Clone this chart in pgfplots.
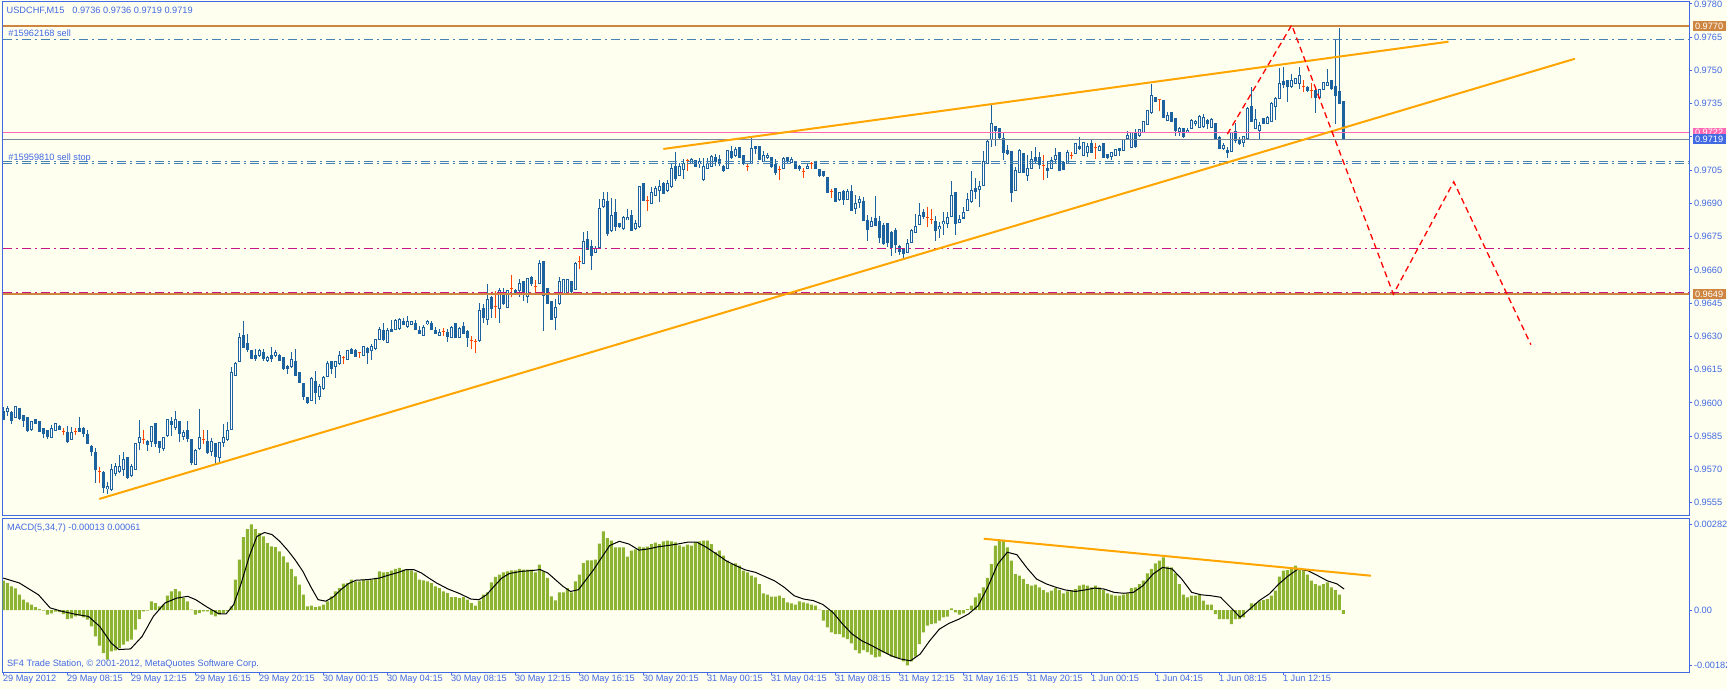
\documentclass[border=0pt]{standalone}
\usepackage{pgfplots}
\pgfplotsset{compat=1.18}
\usepackage{pgfplotstable}
\usepackage{fontspec}
\setmainfont{Liberation Sans}
\definecolor{ivory}{RGB}{255,255,240}
\definecolor{mtblue}{RGB}{65,105,225}
\definecolor{candle}{RGB}{28,98,158}
\definecolor{doji}{RGB}{255,69,0}
\definecolor{peru}{RGB}{205,133,63}
\definecolor{steel}{RGB}{70,130,180}
\definecolor{mvred}{RGB}{199,21,133}
\definecolor{hotpink}{RGB}{255,105,180}
\definecolor{slate}{RGB}{119,136,153}
\definecolor{orangeline}{RGB}{255,165,0}
\definecolor{macdgreen}{RGB}{140,180,50}
\newcommand{\mtfont}{\fontsize{9.2pt}{11pt}\selectfont}

\pgfplotstableread{
i t o h l c
0 -1 0.95964 0.95982 0.95922 0.95925
1 1 0.95964 0.95985 0.95940 0.95976
2 -1 0.95958 0.95964 0.95907 0.95922
3 1 0.95934 0.95988 0.95931 0.95985
4 -1 0.95976 0.95979 0.95925 0.95931
5 -1 0.95943 0.95946 0.95892 0.95922
6 -1 0.95934 0.95937 0.95871 0.95877
7 1 0.95883 0.95922 0.95877 0.95916
8 -1 0.95925 0.95925 0.95904 0.95907
9 -1 0.95916 0.95919 0.95871 0.95874
10 -1 0.95886 0.95889 0.95844 0.95865
11 -1 0.95877 0.95880 0.95838 0.95850
12 1 0.95844 0.95898 0.95841 0.95886
13 1 0.95877 0.95910 0.95874 0.95907
14 -1 0.95895 0.95901 0.95877 0.95883
15 0 0.95871 0.95886 0.95853 0.95871
16 -1 0.95868 0.95895 0.95820 0.95826
17 1 0.95835 0.95892 0.95832 0.95868
18 0 0.95871 0.95886 0.95853 0.95871
19 -1 0.95886 0.95937 0.95871 0.95874
20 -1 0.95886 0.95892 0.95847 0.95865
21 -1 0.95856 0.95877 0.95814 0.95817
22 -1 0.95805 0.95814 0.95763 0.95784
23 -1 0.95778 0.95796 0.95642 0.95702
24 0 0.95693 0.95714 0.95642 0.95693
25 -1 0.95687 0.95696 0.95597 0.95621
26 1 0.95612 0.95645 0.95588 0.95624
27 1 0.95612 0.95726 0.95606 0.95702
28 1 0.95684 0.95729 0.95669 0.95714
29 1 0.95693 0.95766 0.95684 0.95714
30 1 0.95702 0.95778 0.95672 0.95744
31 -1 0.95753 0.95756 0.95657 0.95663
32 1 0.95672 0.95726 0.95666 0.95714
33 1 0.95702 0.95820 0.95699 0.95817
34 1 0.95823 0.95925 0.95787 0.95844
35 0 0.95835 0.95877 0.95814 0.95835
36 -1 0.95829 0.95835 0.95784 0.95814
37 1 0.95826 0.95898 0.95802 0.95895
38 -1 0.95907 0.95910 0.95802 0.95817
39 -1 0.95826 0.95832 0.95775 0.95802
40 1 0.95793 0.95847 0.95784 0.95844
41 1 0.95853 0.95928 0.95847 0.95925
42 -1 0.95919 0.95937 0.95853 0.95904
43 1 0.95892 0.95967 0.95877 0.95925
44 -1 0.95916 0.95919 0.95823 0.95865
45 1 0.95850 0.95880 0.95832 0.95868
46 -1 0.95877 0.95919 0.95826 0.95841
47 -1 0.95835 0.95838 0.95720 0.95732
48 1 0.95723 0.95793 0.95720 0.95787
49 1 0.95793 0.95976 0.95790 0.95844
50 0 0.95835 0.95877 0.95814 0.95835
51 -1 0.95826 0.95877 0.95772 0.95775
52 1 0.95784 0.95841 0.95760 0.95826
53 -1 0.95817 0.95823 0.95720 0.95760
54 1 0.95753 0.95826 0.95729 0.95820
55 1 0.95823 0.95907 0.95802 0.95844
56 1 0.95835 0.95913 0.95829 0.95877
57 1 0.95883 0.96163 0.95877 0.96139
58 1 0.96124 0.96187 0.96121 0.96178
59 1 0.96187 0.96316 0.96184 0.96295
60 -1 0.96304 0.96368 0.96250 0.96253
61 -1 0.96268 0.96310 0.96232 0.96244
62 -1 0.96238 0.96241 0.96199 0.96202
63 -1 0.96214 0.96247 0.96190 0.96202
64 1 0.96214 0.96244 0.96208 0.96238
65 -1 0.96229 0.96244 0.96193 0.96202
66 1 0.96193 0.96211 0.96184 0.96205
67 -1 0.96214 0.96253 0.96187 0.96202
68 1 0.96214 0.96241 0.96208 0.96229
69 -1 0.96214 0.96223 0.96190 0.96193
70 -1 0.96205 0.96208 0.96151 0.96154
71 -1 0.96166 0.96172 0.96133 0.96154
72 1 0.96166 0.96229 0.96160 0.96196
73 -1 0.96187 0.96244 0.96121 0.96124
74 -1 0.96139 0.96142 0.96091 0.96094
75 -1 0.96088 0.96091 0.96012 0.96030
76 -1 0.96024 0.96027 0.95994 0.96003
77 1 0.96012 0.96115 0.96009 0.96109
78 -1 0.96097 0.96142 0.95997 0.96045
79 1 0.96030 0.96085 0.96012 0.96076
80 1 0.96064 0.96124 0.96061 0.96115
81 1 0.96121 0.96190 0.96118 0.96178
82 -1 0.96187 0.96190 0.96133 0.96154
83 1 0.96163 0.96190 0.96112 0.96187
84 1 0.96178 0.96238 0.96175 0.96214
85 0 0.96205 0.96214 0.96175 0.96205
86 1 0.96196 0.96241 0.96193 0.96238
87 -1 0.96244 0.96250 0.96223 0.96226
88 -1 0.96238 0.96244 0.96208 0.96211
89 0 0.96226 0.96232 0.96202 0.96226
90 1 0.96214 0.96259 0.96211 0.96256
91 -1 0.96247 0.96253 0.96177 0.96226
92 1 0.96238 0.96268 0.96193 0.96256
93 1 0.96244 0.96289 0.96241 0.96286
94 1 0.96289 0.96343 0.96283 0.96334
95 -1 0.96328 0.96361 0.96280 0.96286
96 1 0.96274 0.96337 0.96271 0.96328
97 -1 0.96334 0.96376 0.96319 0.96322
98 1 0.96334 0.96379 0.96331 0.96373
99 1 0.96334 0.96385 0.96331 0.96376
100 -1 0.96370 0.96382 0.96352 0.96355
101 1 0.96343 0.96394 0.96340 0.96367
102 1 0.96355 0.96370 0.96352 0.96367
103 -1 0.96361 0.96373 0.96331 0.96334
104 -1 0.96328 0.96346 0.96313 0.96316
105 1 0.96304 0.96352 0.96301 0.96343
106 1 0.96358 0.96373 0.96352 0.96367
107 -1 0.96361 0.96370 0.96328 0.96334
108 -1 0.96328 0.96343 0.96310 0.96316
109 1 0.96304 0.96334 0.96301 0.96319
110 0 0.96322 0.96337 0.96301 0.96322
111 -1 0.96319 0.96334 0.96274 0.96301
112 1 0.96295 0.96346 0.96292 0.96343
113 -1 0.96358 0.96361 0.96292 0.96295
114 1 0.96295 0.96343 0.96292 0.96337
115 -1 0.96346 0.96367 0.96313 0.96316
116 -1 0.96325 0.96331 0.96253 0.96295
117 0 0.96280 0.96304 0.96244 0.96280
118 0 0.96277 0.96289 0.96226 0.96277
119 1 0.96283 0.96451 0.96277 0.96415
120 -1 0.96427 0.96448 0.96364 0.96385
121 1 0.96376 0.96539 0.96352 0.96466
122 -1 0.96475 0.96482 0.96385 0.96427
123 0 0.96433 0.96506 0.96385 0.96433
124 1 0.96424 0.96518 0.96364 0.96506
125 -1 0.96497 0.96518 0.96442 0.96448
126 1 0.96433 0.96512 0.96430 0.96506
127 0 0.96515 0.96578 0.96478 0.96515
128 -1 0.96509 0.96515 0.96494 0.96497
129 1 0.96506 0.96560 0.96478 0.96539
130 -1 0.96548 0.96554 0.96463 0.96491
131 1 0.96482 0.96563 0.96451 0.96560
132 -1 0.96566 0.96575 0.96527 0.96539
133 0 0.96527 0.96557 0.96494 0.96527
134 1 0.96539 0.96644 0.96536 0.96629
135 -1 0.96638 0.96641 0.96325 0.96485
136 -1 0.96515 0.96518 0.96445 0.96448
137 -1 0.96457 0.96460 0.96373 0.96376
138 1 0.96385 0.96472 0.96328 0.96433
139 1 0.96448 0.96569 0.96445 0.96548
140 1 0.96491 0.96563 0.96488 0.96557
141 1 0.96491 0.96560 0.96488 0.96557
142 -1 0.96548 0.96551 0.96494 0.96506
143 1 0.96515 0.96638 0.96512 0.96629
144 0 0.96638 0.96665 0.96605 0.96638
145 1 0.96629 0.96773 0.96626 0.96728
146 -1 0.96737 0.96776 0.96692 0.96695
147 -1 0.96707 0.96734 0.96599 0.96665
148 1 0.96680 0.96710 0.96677 0.96698
149 1 0.96704 0.96921 0.96701 0.96879
150 1 0.96885 0.96951 0.96882 0.96918
151 -1 0.96909 0.96951 0.96755 0.96767
152 1 0.96776 0.96924 0.96773 0.96846
153 -1 0.96861 0.96921 0.96779 0.96795
154 -1 0.96810 0.96813 0.96792 0.96795
155 1 0.96786 0.96843 0.96783 0.96837
156 1 0.96828 0.96876 0.96825 0.96837
157 -1 0.96846 0.96870 0.96776 0.96779
158 1 0.96786 0.96825 0.96783 0.96810
159 1 0.96795 0.96981 0.96792 0.96978
160 -1 0.96990 0.96993 0.96912 0.96915
161 0 0.96915 0.96936 0.96867 0.96915
162 1 0.96900 0.96975 0.96897 0.96951
163 1 0.96936 0.96981 0.96933 0.96969
164 1 0.96957 0.97008 0.96906 0.96978
165 -1 0.96990 0.96999 0.96945 0.96948
166 1 0.96957 0.97005 0.96954 0.96990
167 1 0.96975 0.97080 0.96972 0.97059
168 -1 0.97068 0.97132 0.97005 0.97014
169 1 0.97026 0.97084 0.97023 0.97068
170 1 0.97056 0.97102 0.97011 0.97080
171 0 0.97093 0.97102 0.97047 0.97093
172 1 0.97080 0.97105 0.97077 0.97099
173 -1 0.97093 0.97096 0.97065 0.97068
174 1 0.97080 0.97108 0.97062 0.97090
175 1 0.97008 0.97108 0.97005 0.97068
176 1 0.97061 0.97106 0.97058 0.97082
177 1 0.97067 0.97118 0.97064 0.97115
178 -1 0.97109 0.97124 0.97070 0.97091
179 -1 0.97100 0.97118 0.97070 0.97079
180 -1 0.97070 0.97076 0.97043 0.97049
181 1 0.97058 0.97142 0.97055 0.97139
182 -1 0.97133 0.97160 0.97103 0.97106
183 1 0.97115 0.97154 0.97109 0.97142
184 -1 0.97151 0.97154 0.97106 0.97109
185 -1 0.97118 0.97121 0.97073 0.97079
186 0 0.97067 0.97082 0.97046 0.97067
187 1 0.97079 0.97196 0.97076 0.97148
188 -1 0.97160 0.97163 0.97124 0.97148
189 -1 0.97157 0.97160 0.97094 0.97097
190 1 0.97091 0.97136 0.97088 0.97118
191 1 0.97106 0.97127 0.97100 0.97118
192 -1 0.97109 0.97112 0.97061 0.97067
193 -1 0.97079 0.97103 0.97028 0.97040
194 0 0.97052 0.97067 0.97007 0.97052
195 1 0.97058 0.97109 0.97055 0.97106
196 -1 0.97109 0.97112 0.97079 0.97097
197 1 0.97088 0.97109 0.97082 0.97100
198 -1 0.97091 0.97094 0.97055 0.97058
199 -1 0.97070 0.97073 0.97049 0.97058
200 0 0.97046 0.97061 0.97016 0.97046
201 1 0.97058 0.97079 0.97055 0.97070
202 0 0.97082 0.97088 0.97058 0.97082
203 -1 0.97091 0.97094 0.97055 0.97058
204 -1 0.97052 0.97055 0.97022 0.97025
205 -1 0.97043 0.97049 0.97022 0.97025
206 -1 0.97019 0.97022 0.96947 0.96950
207 0 0.96953 0.96968 0.96925 0.96953
208 -1 0.96968 0.96971 0.96907 0.96910
209 1 0.96919 0.96953 0.96910 0.96950
210 -1 0.96953 0.96962 0.96892 0.96916
211 1 0.96919 0.96965 0.96916 0.96956
212 -1 0.96953 0.96983 0.96865 0.96868
213 1 0.96877 0.96937 0.96853 0.96901
214 1 0.96907 0.96934 0.96877 0.96919
215 -1 0.96910 0.96931 0.96823 0.96826
216 -1 0.96823 0.96847 0.96730 0.96784
217 1 0.96796 0.96838 0.96793 0.96820
218 -1 0.96832 0.96937 0.96799 0.96802
219 -1 0.96820 0.96844 0.96724 0.96745
220 -1 0.96799 0.96811 0.96715 0.96718
221 -1 0.96811 0.96814 0.96703 0.96724
222 -1 0.96772 0.96775 0.96664 0.96703
223 -1 0.96781 0.96790 0.96676 0.96718
224 -1 0.96709 0.96712 0.96667 0.96685
225 -1 0.96691 0.96697 0.96655 0.96676
226 1 0.96679 0.96742 0.96676 0.96721
227 1 0.96727 0.96787 0.96724 0.96778
228 1 0.96769 0.96853 0.96766 0.96796
229 1 0.96808 0.96901 0.96805 0.96847
230 -1 0.96862 0.96877 0.96832 0.96844
231 0 0.96838 0.96886 0.96796 0.96838
232 0 0.96829 0.96877 0.96808 0.96829
233 -1 0.96820 0.96844 0.96730 0.96778
234 1 0.96787 0.96817 0.96745 0.96796
235 1 0.96808 0.96862 0.96757 0.96820
236 1 0.96811 0.96865 0.96790 0.96838
237 1 0.96844 0.97001 0.96841 0.96937
238 -1 0.96950 0.96953 0.96757 0.96811
239 1 0.96814 0.96847 0.96811 0.96829
240 1 0.96835 0.96886 0.96832 0.96862
241 1 0.96868 0.96950 0.96865 0.96916
242 1 0.96907 0.97049 0.96904 0.96959
243 -1 0.96968 0.97016 0.96919 0.96956
244 1 0.96965 0.97004 0.96886 0.96980
245 1 0.96983 0.97139 0.96980 0.97088
246 1 0.97082 0.97190 0.97079 0.97178
247 1 0.97190 0.97353 0.97154 0.97260
248 -1 0.97248 0.97251 0.97160 0.97229
249 -1 0.97238 0.97242 0.97193 0.97196
250 -1 0.97196 0.97217 0.97097 0.97130
251 -1 0.97139 0.97166 0.97118 0.97127
252 -1 0.97136 0.97139 0.96907 0.96950
253 1 0.96959 0.97064 0.96956 0.97049
254 1 0.97040 0.97148 0.97037 0.97139
255 -1 0.97127 0.97130 0.97037 0.97040
256 1 0.97025 0.97121 0.97001 0.97058
257 1 0.97058 0.97136 0.97055 0.97100
258 -1 0.97109 0.97157 0.97082 0.97097
259 -1 0.97109 0.97133 0.97055 0.97079
260 0 0.97070 0.97118 0.97007 0.97070
261 -1 0.97058 0.97094 0.97016 0.97049
262 1 0.97058 0.97109 0.97055 0.97097
263 1 0.97102 0.97150 0.97081 0.97117
264 -1 0.97132 0.97135 0.97048 0.97051
265 -1 0.97088 0.97093 0.97051 0.97054
266 1 0.97081 0.97141 0.97078 0.97132
267 0 0.97117 0.97132 0.97102 0.97117
268 1 0.97126 0.97174 0.97123 0.97171
269 -1 0.97159 0.97201 0.97141 0.97147
270 1 0.97117 0.97177 0.97114 0.97174
271 1 0.97132 0.97174 0.97111 0.97159
272 -1 0.97171 0.97189 0.97129 0.97132
273 0 0.97153 0.97174 0.97099 0.97153
274 1 0.97138 0.97165 0.97135 0.97159
275 -1 0.97171 0.97174 0.97105 0.97108
276 -1 0.97120 0.97123 0.97102 0.97108
277 1 0.97114 0.97135 0.97096 0.97132
278 1 0.97117 0.97147 0.97114 0.97144
279 -1 0.97147 0.97153 0.97117 0.97141
280 1 0.97141 0.97192 0.97138 0.97189
281 1 0.97195 0.97228 0.97192 0.97207
282 1 0.97153 0.97222 0.97150 0.97219
283 -1 0.97222 0.97237 0.97153 0.97156
284 1 0.97207 0.97237 0.97201 0.97234
285 1 0.97222 0.97273 0.97219 0.97270
286 1 0.97258 0.97325 0.97255 0.97321
287 1 0.97309 0.97439 0.97306 0.97388
288 -1 0.97379 0.97382 0.97358 0.97361
289 0 0.97370 0.97373 0.97318 0.97370
290 -1 0.97364 0.97367 0.97285 0.97288
291 1 0.97276 0.97312 0.97273 0.97297
292 -1 0.97312 0.97315 0.97267 0.97270
293 -1 0.97282 0.97285 0.97204 0.97228
294 1 0.97225 0.97246 0.97204 0.97240
295 -1 0.97240 0.97243 0.97198 0.97204
296 1 0.97222 0.97240 0.97219 0.97231
297 1 0.97240 0.97282 0.97237 0.97276
298 1 0.97261 0.97279 0.97252 0.97273
299 1 0.97246 0.97300 0.97243 0.97294
300 1 0.97249 0.97306 0.97240 0.97291
301 -1 0.97276 0.97282 0.97237 0.97261
302 1 0.97246 0.97288 0.97243 0.97279
303 -1 0.97261 0.97264 0.97186 0.97189
304 -1 0.97201 0.97204 0.97147 0.97150
305 1 0.97150 0.97174 0.97141 0.97162
306 -1 0.97141 0.97156 0.97105 0.97129
307 1 0.97135 0.97225 0.97132 0.97222
308 -1 0.97228 0.97264 0.97174 0.97186
309 -1 0.97192 0.97201 0.97165 0.97171
310 1 0.97177 0.97207 0.97156 0.97201
311 1 0.97192 0.97334 0.97189 0.97331
312 -1 0.97337 0.97424 0.97267 0.97270
313 1 0.97237 0.97325 0.97234 0.97279
314 1 0.97231 0.97267 0.97189 0.97252
315 -1 0.97285 0.97288 0.97258 0.97264
316 1 0.97264 0.97294 0.97258 0.97288
317 1 0.97270 0.97361 0.97267 0.97352
318 1 0.97337 0.97379 0.97276 0.97373
319 1 0.97376 0.97514 0.97373 0.97445
320 -1 0.97451 0.97517 0.97421 0.97439
321 -1 0.97454 0.97457 0.97358 0.97430
322 1 0.97427 0.97484 0.97424 0.97457
323 1 0.97442 0.97469 0.97439 0.97463
324 1 0.97442 0.97517 0.97418 0.97478
325 0 0.97427 0.97460 0.97406 0.97427
326 -1 0.97424 0.97433 0.97403 0.97412
327 0 0.97409 0.97445 0.97379 0.97409
328 -1 0.97412 0.97418 0.97309 0.97379
329 1 0.97379 0.97418 0.97376 0.97415
330 1 0.97415 0.97451 0.97412 0.97445
331 1 0.97433 0.97508 0.97430 0.97445
332 -1 0.97454 0.97457 0.97415 0.97418
333 -1 0.97430 0.97644 0.97261 0.97388
334 -1 0.97406 0.97692 0.97349 0.97352
335 -1 0.97360 0.97360 0.97190 0.97190
}\candles

\pgfplotstableread{
i m
0 0.965e-3
1 0.888e-3
2 0.779e-3
3 0.713e-3
4 0.504e-3
5 0.340e-3
6 0.252e-3
7 0.175e-3
8 0.099e-3
9 0.033e-3
10 -0.022e-3
11 -0.154e-3
12 -0.110e-3
13 -0.055e-3
14 -0.066e-3
15 -0.132e-3
16 -0.296e-3
17 -0.274e-3
18 -0.208e-3
19 -0.186e-3
20 -0.241e-3
21 -0.318e-3
22 -0.537e-3
23 -0.866e-3
24 -1.173e-3
25 -1.414e-3
26 -1.634e-3
27 -1.360e-3
28 -1.327e-3
29 -1.250e-3
30 -1.140e-3
31 -1.031e-3
32 -0.976e-3
33 -0.647e-3
34 -0.296e-3
35 -0.044e-3
36 -0.022e-3
37 0.285e-3
38 0.230e-3
39 0.121e-3
40 0.175e-3
41 0.471e-3
42 0.614e-3
43 0.691e-3
44 0.614e-3
45 0.395e-3
46 0.285e-3
47 0.011e-3
48 -0.154e-3
49 -0.099e-3
50 -0.044e-3
51 -0.044e-3
52 -0.154e-3
53 -0.208e-3
54 -0.154e-3
55 -0.099e-3
56 -0.044e-3
57 0.121e-3
58 0.998e-3
59 1.656e-3
60 2.401e-3
61 2.664e-3
62 2.820e-3
63 2.664e-3
64 2.533e-3
65 2.423e-3
66 2.204e-3
67 2.094e-3
68 2.072e-3
69 1.930e-3
70 1.765e-3
71 1.568e-3
72 1.349e-3
73 1.107e-3
74 0.833e-3
75 0.504e-3
76 0.121e-3
77 0.143e-3
78 0.099e-3
79 0.121e-3
80 0.175e-3
81 0.285e-3
82 0.450e-3
83 0.614e-3
84 0.724e-3
85 0.866e-3
86 0.888e-3
87 0.998e-3
88 0.943e-3
89 0.943e-3
90 0.998e-3
91 0.976e-3
92 0.998e-3
93 1.053e-3
94 1.272e-3
95 1.239e-3
96 1.250e-3
97 1.294e-3
98 1.349e-3
99 1.382e-3
100 1.327e-3
101 1.327e-3
102 1.305e-3
103 1.239e-3
104 0.998e-3
105 0.976e-3
106 0.943e-3
107 0.888e-3
108 0.779e-3
109 0.724e-3
110 0.614e-3
111 0.559e-3
112 0.428e-3
113 0.428e-3
114 0.395e-3
115 0.428e-3
116 0.340e-3
117 0.230e-3
118 0.143e-3
119 0.307e-3
120 0.504e-3
121 0.581e-3
122 0.910e-3
123 1.086e-3
124 1.162e-3
125 1.239e-3
126 1.272e-3
127 1.305e-3
128 1.305e-3
129 1.349e-3
130 1.327e-3
131 1.327e-3
132 1.327e-3
133 1.239e-3
134 1.491e-3
135 1.272e-3
136 1.053e-3
137 0.450e-3
138 0.318e-3
139 0.581e-3
140 0.581e-3
141 0.724e-3
142 0.581e-3
143 0.943e-3
144 1.162e-3
145 1.546e-3
146 1.634e-3
147 1.634e-3
148 1.656e-3
149 2.182e-3
150 2.588e-3
151 2.368e-3
152 2.281e-3
153 2.061e-3
154 2.061e-3
155 2.061e-3
156 1.754e-3
157 1.952e-3
158 1.996e-3
159 2.083e-3
160 2.061e-3
161 2.083e-3
162 2.171e-3
163 2.215e-3
164 2.171e-3
165 2.259e-3
166 2.281e-3
167 2.259e-3
168 2.226e-3
169 2.127e-3
170 2.083e-3
171 2.149e-3
172 2.116e-3
173 2.226e-3
174 2.259e-3
175 2.281e-3
176 2.281e-3
177 2.171e-3
178 1.908e-3
179 1.952e-3
180 1.787e-3
181 1.623e-3
182 1.513e-3
183 1.535e-3
184 1.458e-3
185 1.294e-3
186 1.239e-3
187 1.129e-3
188 1.075e-3
189 0.855e-3
190 0.548e-3
191 0.504e-3
192 0.439e-3
193 0.439e-3
194 0.471e-3
195 0.395e-3
196 0.252e-3
197 0.219e-3
198 0.175e-3
199 0.285e-3
200 0.252e-3
201 0.219e-3
202 0.175e-3
203 0.143e-3
204 0.010e-3
205 -0.351e-3
206 -0.570e-3
207 -0.735e-3
208 -0.789e-3
209 -0.789e-3
210 -0.899e-3
211 -0.954e-3
212 -1.096e-3
213 -1.316e-3
214 -1.425e-3
215 -1.316e-3
216 -1.382e-3
217 -1.469e-3
218 -1.557e-3
219 -1.535e-3
220 -1.393e-3
221 -1.447e-3
222 -1.535e-3
223 -1.579e-3
224 -1.579e-3
225 -1.689e-3
226 -1.820e-3
227 -1.689e-3
228 -1.535e-3
229 -1.118e-3
230 -0.735e-3
231 -0.515e-3
232 -0.461e-3
233 -0.439e-3
234 -0.351e-3
235 -0.241e-3
236 -0.219e-3
237 0.055e-3
238 -0.077e-3
239 -0.154e-3
240 -0.110e-3
241 0.033e-3
242 0.143e-3
243 0.417e-3
244 0.548e-3
245 0.746e-3
246 1.053e-3
247 1.513e-3
248 2.116e-3
249 2.303e-3
250 2.303e-3
251 2.061e-3
252 1.623e-3
253 1.184e-3
254 1.129e-3
255 1.020e-3
256 0.855e-3
257 0.800e-3
258 0.833e-3
259 0.746e-3
260 0.658e-3
261 0.581e-3
262 0.636e-3
263 0.724e-3
264 0.658e-3
265 0.548e-3
266 0.614e-3
267 0.658e-3
268 0.691e-3
269 0.800e-3
270 0.833e-3
271 0.800e-3
272 0.746e-3
273 0.800e-3
274 0.746e-3
275 0.658e-3
276 0.548e-3
277 0.504e-3
278 0.471e-3
279 0.471e-3
280 0.504e-3
281 0.548e-3
282 0.724e-3
283 0.746e-3
284 0.855e-3
285 0.965e-3
286 1.206e-3
287 1.349e-3
288 1.535e-3
289 1.623e-3
290 1.732e-3
291 1.425e-3
292 1.404e-3
293 1.206e-3
294 0.855e-3
295 0.504e-3
296 0.417e-3
297 0.471e-3
298 0.471e-3
299 0.526e-3
300 0.307e-3
301 0.175e-3
302 0.175e-3
303 -0.132e-3
304 -0.296e-3
305 -0.296e-3
306 -0.296e-3
307 -0.461e-3
308 -0.296e-3
309 -0.296e-3
310 -0.241e-3
311 0.005e-3
312 0.219e-3
313 0.219e-3
314 0.285e-3
315 0.329e-3
316 0.362e-3
317 0.471e-3
318 0.636e-3
319 1.096e-3
320 1.294e-3
321 1.316e-3
322 1.349e-3
323 1.458e-3
324 1.382e-3
325 1.294e-3
326 1.162e-3
327 0.965e-3
328 0.855e-3
329 0.800e-3
330 0.855e-3
331 0.910e-3
332 0.746e-3
333 0.658e-3
334 0.504e-3
335 -0.130e-3
}\macd

\pgfplotstableread{
i s
0 1.05e-3
4 0.89e-3
8.8 0.50e-3
11.7 0.07e-3
14.6 -0.04e-3
18.4 -0.15e-3
21.3 -0.21e-3
24.1 -0.54e-3
27 -1.09e-3
28.9 -1.30e-3
31.8 -1.28e-3
34.7 -0.87e-3
37.5 -0.21e-3
40.4 0.23e-3
43.3 0.39e-3
46.1 0.45e-3
48.1 0.34e-3
50.9 0.10e-3
53.8 -0.12e-3
55.7 -0.13e-3
57.6 0.18e-3
59.5 0.89e-3
61.5 1.77e-3
63.4 2.42e-3
65.3 2.55e-3
67.2 2.48e-3
69.1 2.26e-3
71 1.98e-3
72.9 1.66e-3
74.9 1.27e-3
76.8 0.78e-3
78.7 0.34e-3
80.6 0.29e-3
82.5 0.43e-3
84.4 0.67e-3
86.3 0.87e-3
88.2 0.98e-3
91.1 1.00e-3
94 1.05e-3
95.9 1.13e-3
98.8 1.24e-3
100.7 1.33e-3
102.6 1.33e-3
104.5 1.22e-3
106.4 1.05e-3
108.3 0.89e-3
111.2 0.69e-3
114.1 0.54e-3
116.9 0.36e-3
118.9 0.34e-3
120.8 0.50e-3
122.7 0.78e-3
124.6 1.05e-3
126.5 1.20e-3
129.4 1.27e-3
132.3 1.30e-3
134.2 1.33e-3
136.1 1.22e-3
138 1.00e-3
139.9 0.78e-3
141.8 0.61e-3
143.8 0.67e-3
145.7 1.00e-3
147.6 1.33e-3
149.2 1.65e-3
151.6 2.12e-3
154 2.26e-3
156.4 2.17e-3
158.9 1.97e-3
161.3 2.01e-3
163.7 2.08e-3
166.1 2.12e-3
168.6 2.17e-3
171 2.23e-3
173.4 2.23e-3
175.8 2.06e-3
178.3 1.84e-3
180.7 1.62e-3
183.1 1.46e-3
185.5 1.32e-3
188 1.24e-3
190.4 1.10e-3
192.8 0.96e-3
195.2 0.75e-3
197.7 0.47e-3
200.1 0.36e-3
202.5 0.31e-3
204.9 0.18e-3
207.4 -0.08e-3
209.8 -0.46e-3
212.2 -0.79e-3
214.6 -1.01e-3
217.1 -1.17e-3
219.5 -1.34e-3
221.9 -1.50e-3
224.3 -1.61e-3
226.8 -1.67e-3
229.2 -1.45e-3
231.6 -1.01e-3
234 -0.63e-3
236.4 -0.44e-3
238.9 -0.30e-3
241.3 -0.13e-3
243.7 0.14e-3
246.1 0.75e-3
248.6 1.51e-3
251 1.90e-3
253.4 1.82e-3
255.8 1.40e-3
258.3 1.02e-3
260.7 0.86e-3
263.1 0.75e-3
265.5 0.66e-3
268 0.61e-3
270.4 0.66e-3
272.8 0.72e-3
275.2 0.69e-3
277.7 0.58e-3
280.1 0.55e-3
282.5 0.58e-3
284.9 0.80e-3
287.4 1.18e-3
289.8 1.40e-3
292.2 1.35e-3
294.6 1.02e-3
297.1 0.58e-3
299.5 0.50e-3
301.9 0.47e-3
304.3 0.42e-3
306.8 0.09e-3
309.2 -0.24e-3
311.6 0.03e-3
314 0.31e-3
316.5 0.53e-3
318.9 0.86e-3
321.3 1.13e-3
323.7 1.35e-3
326.2 1.29e-3
328.6 1.13e-3
331 0.96e-3
333.4 0.86e-3
335.2 0.69e-3
}\signal

\pgfplotsset{
  mtaxis/.style={
    scale only axis, width=1686.6pt,
    xmin=-0.15, xmax=421.5,
    axis line style={draw=mtblue, line width=1pt},
    tick style={draw=mtblue, line width=1pt},
    tick align=outside, major tick length=3pt,
    ytick pos=right, yticklabel pos=right,
    every tick label/.append style={font=\mtfont, text=mtblue},
    yticklabel style={anchor=west, inner sep=0pt, xshift=1.5pt},
    clip mode=individual,
    scaled y ticks=false,
  },
  wick/.style={draw=none, mark=none,
    error bars/y dir=both, error bars/y explicit, error bars/error mark=none,
    error bars/error bar style={draw=#1, solid, line width=1pt}},
  body/.style 2 args={draw=none, mark=none,
    error bars/y dir=both, error bars/y explicit, error bars/error mark=none,
    error bars/error bar style={draw=#1, solid, line width=#2}},
  hline/.style={line width=1pt},
  mtdashdot/.style={dash pattern=on 9pt off 4pt on 2pt off 4pt},
}

\begin{document}
\begin{tikzpicture}
\useasboundingbox (0,0) rectangle (1727pt,-689pt);
\clip (0,0) rectangle (1727pt,-689pt);
\fill[ivory] (0,0) rectangle (1727pt,-689pt);

% ---------------- main price panel ----------------
\begin{axis}[mtaxis,
  at={(2.7pt,-1pt)}, anchor=north west, height=514pt,
  ymin=0.954945, ymax=0.978135,
  xtick=\empty,
  ytick={0.9555,0.9570,0.9585,0.9600,0.9615,0.9630,0.9645,0.9660,0.9675,0.9690,0.9705,0.9720,0.9735,0.9750,0.9765,0.9780},
  yticklabels={0.9555,0.9570,0.9585,0.9600,0.9615,0.9630,0.9645,0.9660,0.9675,0.9690,0.9705,0.9720,0.9735,0.9750,0.9765,0.9780},
]
% wicks
\addplot[restrict expr to domain={\thisrow{t}*\thisrow{t}}{0.5:2}, wick=candle]
  table[x=i, y expr={(\thisrow{h}+\thisrow{l})/2}, y error expr={(\thisrow{h}-\thisrow{l})/2}] {\candles};
% bear bodies
\addplot[restrict expr to domain={\thisrow{t}}{-1.5:-0.5}, body={candle}{3pt}]
  table[x=i, y expr={(\thisrow{o}+\thisrow{c})/2}, y error expr={(\thisrow{o}-\thisrow{c})/2+0.0000226}] {\candles};
% bull bodies (outline + white inside)
\addplot[restrict expr to domain={\thisrow{t}}{0.5:1.5}, body={candle}{3pt}]
  table[x=i, y expr={(\thisrow{o}+\thisrow{c})/2}, y error expr={(\thisrow{c}-\thisrow{o})/2+0.0000226}] {\candles};
\addplot[restrict expr to domain={\thisrow{t}}{0.5:1.5}, body={white}{1pt}]
  table[x=i, y expr={(\thisrow{o}+\thisrow{c})/2}, y error expr={max((\thisrow{c}-\thisrow{o})/2-0.0000226,0)}] {\candles};
% doji
\addplot[restrict expr to domain={\thisrow{t}}{-0.5:0.5}, wick=doji]
  table[x=i, y expr={(\thisrow{h}+\thisrow{l})/2}, y error expr={(\thisrow{h}-\thisrow{l})/2}] {\candles};
\addplot[restrict expr to domain={\thisrow{t}}{-0.5:0.5}, draw=none, only marks, mark=-, mark size=1.5pt, mark options={draw=doji, solid, line width=1pt}]
  table[x=i, y=o] {\candles};

% horizontal objects
\addplot[hline, steel, mtdashdot] coordinates {(-0.15,0.97641) (421.5,0.97641)};
\addplot[hline, steel, mtdashdot] coordinates {(-0.15,0.97090) (421.5,0.97090)};
\addplot[hline, steel, mtdashdot] coordinates {(-0.15,0.97081) (421.5,0.97081)};
\addplot[hline, mvred, mtdashdot] coordinates {(-0.15,0.96698) (421.5,0.96698)};
\addplot[hline, mvred, mtdashdot] coordinates {(-0.15,0.96500) (421.5,0.96500)};
\addplot[line width=2pt, peru] coordinates {(-0.15,0.9770) (421.5,0.9770)};
\addplot[line width=2pt, peru] coordinates {(-0.15,0.9649) (421.5,0.9649)};
\addplot[hline, hotpink] coordinates {(-0.15,0.9722) (421.5,0.9722)};
\addplot[hline, slate] coordinates {(-0.15,0.9719) (421.5,0.9719)};
% trend lines
\addplot[line width=2pt, orangeline] coordinates {(24.0,0.95567) (392.9,0.97553)};
\addplot[line width=2pt, orangeline] coordinates {(165.0,0.97146) (361.3,0.97630)};
% projected path
\addplot[line width=1.3pt, red, dash pattern=on 6pt off 4pt] coordinates {(306.0,0.97213) (322.1,0.97705) (347.5,0.96491) (362.6,0.96998) (381.9,0.96263)};

% price tags
\node[fill=peru, text=white, font=\mtfont, inner xsep=2.5pt, inner ysep=0pt, minimum height=10pt, anchor=west, xshift=3pt] at (axis cs:421.5,0.9770) {0.9770};
\node[fill=peru, text=white, font=\mtfont, inner xsep=2.5pt, inner ysep=0pt, minimum height=10pt, anchor=west, xshift=3pt] at (axis cs:421.5,0.9649) {0.9649};
\node[fill=hotpink, text=white, font=\mtfont, inner xsep=2.5pt, inner ysep=0pt, minimum height=10pt, anchor=west, xshift=3pt] at (axis cs:421.5,0.9722) {0.9722};
\node[fill=mtblue, text=white, font=\mtfont, inner xsep=2.5pt, inner ysep=0pt, minimum height=10pt, anchor=west, xshift=3pt] at (axis cs:421.5,0.9719) {0.9719};
\end{axis}

% ---------------- MACD panel ----------------
\begin{axis}[mtaxis,
  at={(2.7pt,-518pt)}, anchor=north west, height=154.3pt,
  ymin=-0.002049, ymax=0.003026,
  ytick={-0.00182,0,0.00282},
  yticklabels={-0.00182,0.00,0.00282},
  xtick={0,16,32,48,64,80,96,112,128,144,160,176,192,208,224,240,256,272,288,304,320},
  xticklabels={29 May 2012,29 May 08:15,29 May 12:15,29 May 16:15,29 May 20:15,30 May 00:15,30 May 04:15,30 May 08:15,30 May 12:15,30 May 16:15,30 May 20:15,31 May 00:15,31 May 04:15,31 May 08:15,31 May 12:15,31 May 16:15,31 May 20:15,1 Jun 00:15,1 Jun 04:15,1 Jun 08:15,1 Jun 12:15},
  xtick pos=bottom, xticklabel pos=bottom,
  xticklabel style={anchor=north west, inner sep=0pt, xshift=-0.5pt},
]
\addplot[ybar, bar width=0.75, bar shift=0pt, fill=macdgreen, draw=none] table[x=i, y=m] {\macd};
\addplot[black, line width=1pt, mark=none] table[x=i, y=s] {\signal};
\addplot[line width=2pt, orangeline] coordinates {(245.1,0.002345) (341.9,0.001128)};
\end{axis}

% ---------------- texts ----------------
\node[anchor=base west, inner sep=0pt, font=\mtfont, text=mtblue] at (6.5pt,-13.5pt) {USDCHF,M15\hspace{8pt}0.9736 0.9736 0.9719 0.9719};
\node[anchor=base west, inner sep=0pt, font=\mtfont, text=mtblue] at (8.3pt,-36.3pt) {\#15962168 sell};
\node[anchor=base west, inner sep=0pt, font=\mtfont, text=mtblue] at (8.3pt,-160.6pt) {\#15959810 sell stop};
\node[anchor=base west, inner sep=0pt, font=\mtfont, text=mtblue] at (6.9pt,-530.6pt) {MACD(5,34,7) -0.00013 0.00061};
\node[anchor=base west, inner sep=0pt, font=\mtfont, text=mtblue] at (6.9pt,-666.6pt) {SF4 Trade Station, © 2001-2012, MetaQuotes Software Corp.};
\end{tikzpicture}
\end{document}
